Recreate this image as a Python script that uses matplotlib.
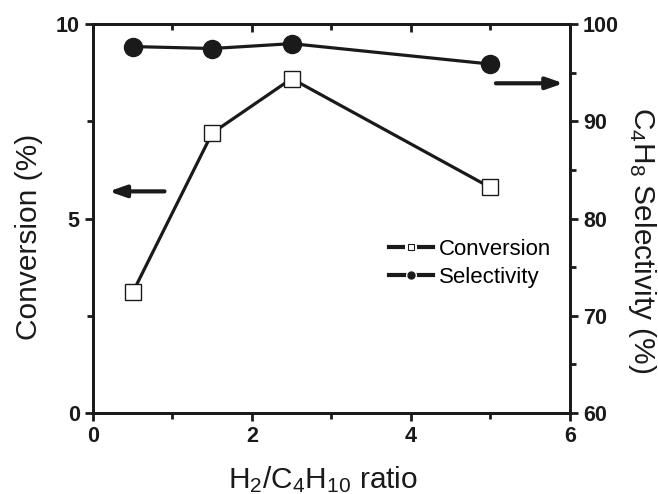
import matplotlib
matplotlib.use("Agg")
import matplotlib.pyplot as plt
from matplotlib.ticker import MultipleLocator
from matplotlib.lines import Line2D

plt.rcParams["font.family"] = ["Liberation Sans", "DejaVu Sans"]
plt.rcParams["mathtext.fontset"] = "custom"
plt.rcParams["mathtext.rm"] = "Liberation Sans"
plt.rcParams["mathtext.it"] = "Liberation Sans"
plt.rcParams["mathtext.default"] = "rm"

# Data
ratio = [0.5, 1.5, 2.5, 5.0]
conversion = [3.1, 7.2, 8.6, 5.8]
selectivity = [97.7, 97.5, 98.0, 95.9]

ink = "#1a1a1a"

fig = plt.figure(figsize=(6.58, 4.94), dpi=100)
ax = fig.add_axes([0.1413, 0.164, 0.7247, 0.787])
ax2 = ax.twinx()

lw = 2.3
ax.plot(ratio, conversion, color=ink, lw=lw, marker="s", ms=11.5,
        mfc="white", mec=ink, mew=1.0, zorder=3)
ax2.plot(ratio, selectivity, color=ink, lw=lw, marker="o", ms=13,
         mfc=ink, mec=ink, zorder=3)

ax.set_xlim(0, 6)
ax.set_ylim(0, 10)
ax2.set_ylim(60, 100)

ax.xaxis.set_major_locator(MultipleLocator(2))
ax.xaxis.set_minor_locator(MultipleLocator(1))
ax.yaxis.set_major_locator(MultipleLocator(5))
ax.yaxis.set_minor_locator(MultipleLocator(2.5))
ax2.yaxis.set_major_locator(MultipleLocator(10))
ax2.yaxis.set_minor_locator(MultipleLocator(5))

for a in (ax, ax2):
    for s in a.spines.values():
        s.set_linewidth(2.0)
        s.set_color(ink)

# bottom ticks outward, top ticks inward (separate top axis)
top = ax.secondary_xaxis("top")
top.xaxis.set_major_locator(MultipleLocator(2))
top.xaxis.set_minor_locator(MultipleLocator(1))
top.tick_params(axis="x", which="both", direction="in", labeltop=False,
                width=2, colors=ink)
top.tick_params(axis="x", which="major", length=6)
top.tick_params(axis="x", which="minor", length=4)
top.spines["top"].set_linewidth(2.0)

for a, axis in ((ax, "x"), (ax, "y"), (ax2, "y")):
    a.tick_params(axis=axis, which="both", direction="out", labelsize=15.5,
                  width=2, colors=ink)
    a.tick_params(axis=axis, which="major", length=6)
    a.tick_params(axis=axis, which="minor", length=4)

for lab in ax.get_xticklabels() + ax.get_yticklabels() + ax2.get_yticklabels():
    lab.set_fontweight("bold")

ax.set_xlabel("H$_2$/C$_4$H$_{10}$ ratio", fontsize=21.5, labelpad=12,
              color=ink)
ax.xaxis.label.set_x(0.483)
ax.set_ylabel("Conversion (%)", fontsize=21.5, color=ink)
ax.yaxis.set_label_coords(-0.105, 0.452)
ax2.set_ylabel("C$_4$H$_8$ Selectivity (%)", fontsize=21.5, rotation=270,
               color=ink, va="bottom")
ax2.yaxis.set_label_coords(1.118, 0.445)

# direction arrows
ax.annotate("", xy=(0.2, 5.7), xytext=(0.9, 5.7),
            arrowprops=dict(arrowstyle="-|>,head_length=1.0,head_width=0.35",
                            color=ink, lw=3, shrinkA=0, shrinkB=0))
ax.annotate("", xy=(5.92, 8.48), xytext=(5.07, 8.48),
            arrowprops=dict(arrowstyle="-|>,head_length=1.0,head_width=0.35",
                            color=ink, lw=3, shrinkA=0, shrinkB=0))

# legend handles: line broken by a white gap around a small marker
h_conv = (Line2D([], [], color=ink, lw=3, marker="s", ms=8, mfc="white",
                 mec="white", mew=0),
          Line2D([], [], ls="none", marker="s", ms=4.5, mfc="white",
                 mec=ink, mew=0.8))
h_sel = (Line2D([], [], color=ink, lw=3, marker="o", ms=8, mfc="white",
                mec="white", mew=0),
         Line2D([], [], ls="none", marker="o", ms=5, mfc=ink, mec=ink))
ax.legend([h_conv, h_sel], ["Conversion", "Selectivity"], loc="upper left",
          bbox_to_anchor=(0.62, 0.447), frameon=False, fontsize=16,
          handlelength=2.0, handletextpad=0.25, labelspacing=0.29,
          borderaxespad=0, borderpad=0)

fig.savefig("out.png", dpi=100)
